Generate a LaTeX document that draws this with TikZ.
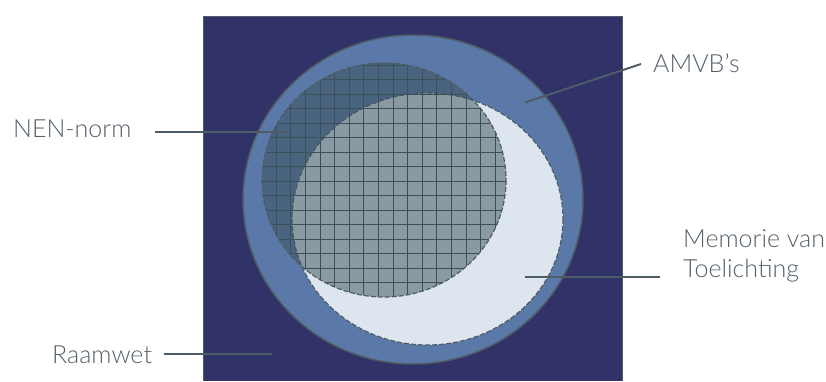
\documentclass[tikz,border=0pt]{standalone}
\usepackage{fontspec}
\setmainfont{Lato Light}
\definecolor{bgsq}{RGB}{49,50,104}
\definecolor{outerc}{RGB}{91,121,168}
\definecolor{memc}{RGB}{221,229,238}
\definecolor{nenc}{RGB}{57,81,88}
\definecolor{edgec}{RGB}{78,92,102}
\definecolor{gridc}{RGB}{62,78,90}
\definecolor{txtc}{RGB}{84,96,106}
\tikzset{
  lbl/.style={anchor=base west, inner sep=0pt, text=txtc, font=\fontsize{25}{30}\selectfont, align=left},
  leader/.style={draw=edgec, line width=2pt},
}
\begin{document}
\begin{tikzpicture}[x=1pt,y=-1pt]
\useasboundingbox (0,0) rectangle (826,381);
% Raamwet square
\fill[bgsq] (203,16) rectangle (622,381);
\draw[edgec, line width=1pt] (203,381) -- (203,16) -- (622,16) -- (622,381);
% AMVB circle
\draw[fill=outerc, draw=edgec, line width=1.5pt] (413,199.5) ellipse [x radius=170, y radius=164.5];
% Memorie ellipse
\draw[fill=memc, draw=edgec, line width=1.2pt, dash pattern=on 5pt off 2pt] (427.5,219) ellipse [x radius=135.5, y radius=126];
% NEN ellipse
\fill[nenc, fill opacity=0.5] (384,180) ellipse [x radius=122, y radius=117];
\begin{scope}
  \clip (384,180) ellipse [x radius=122, y radius=117];
  \foreach \i in {-3,...,14} \draw[gridc, line width=0.8pt] (305.3+14.6*\i,55) -- (305.3+14.6*\i,305);
  \foreach \j in {-3,...,15} \draw[gridc, line width=0.8pt] (255,94+14.5*\j) -- (515,94+14.5*\j);
\end{scope}
\draw[draw=edgec, line width=1.2pt, dash pattern=on 5pt off 2pt] (384,180) ellipse [x radius=122, y radius=117];
% labels
\node[lbl] (nen) at (13,137) {NEN-norm};
\node[lbl] (amvb) at (653,72) {AMVB\char"27 s};
\node[lbl] (mem) at (683,277) {Memorie van\\Toelichting};
\node[lbl] (raam) at (52,363) {Raamwet};
% leader lines
\coordinate (nenA) at (155,132);
\coordinate (nenB) at (290,132);
\coordinate (amA) at (641,64);
\coordinate (amB) at (525,102.5);
\coordinate (memA) at (660,276.5);
\coordinate (memB) at (525,276.5);
\coordinate (raA) at (164,354.3);
\coordinate (raB) at (272,354.3);
\draw[leader] (nenA) -- (nenB);
\draw[leader] (amA) -- (amB);
\draw[leader] (memA) -- (memB);
\draw[leader] (raA) -- (raB);
\end{tikzpicture}
\end{document}
